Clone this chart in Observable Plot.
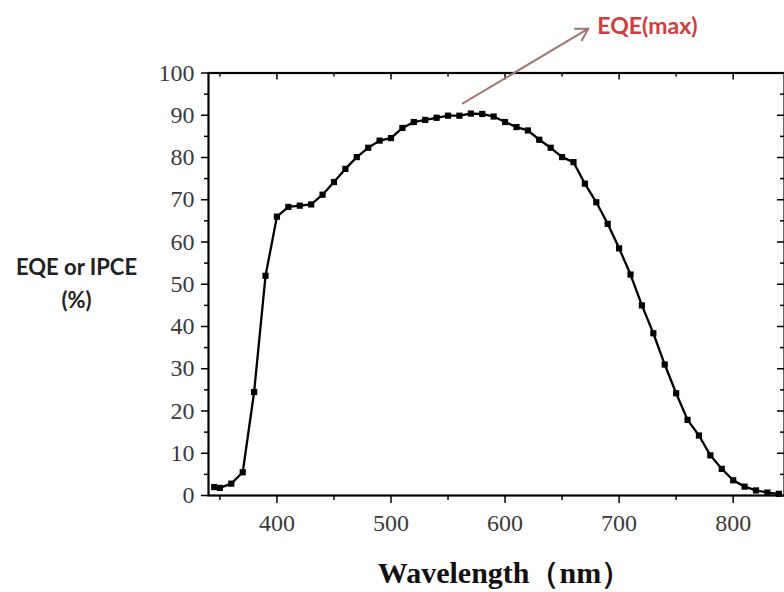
<!DOCTYPE html>
<html>
<head>
<meta charset="utf-8">
<script src="https://cdn.jsdelivr.net/npm/d3@7"></script>
<script src="https://cdn.jsdelivr.net/npm/@observablehq/plot@0.6"></script>
<style>
  html, body { margin: 0; padding: 0; background: #ffffff; overflow: hidden; }
  #chart svg { display: block; }
</style>
</head>
<body>
<div id="chart"></div>
<script>
// Data
const wavelength = [345, 350, 360, 370, 380, 390, 400, 410, 420, 430, 440, 450, 460, 470, 480, 490, 500,
  510, 520, 530, 540, 550, 560, 570, 580, 590, 600, 610, 620, 630, 640, 650, 660, 670, 680, 690, 700,
  710, 720, 730, 740, 750, 760, 770, 780, 790, 800, 810, 820, 830, 840];
const eqe = [2.0, 1.8, 2.8, 5.5, 24.5, 52.0, 66.0, 68.3, 68.6, 68.9, 71.2, 74.2, 77.3, 80.1, 82.3, 84.0, 84.6,
  87.0, 88.4, 88.9, 89.4, 89.9, 89.9, 90.4, 90.3, 89.7, 88.4, 87.2, 86.4, 84.2, 82.3, 80.1, 78.9, 73.8, 69.4, 64.3, 58.5,
  52.3, 45.0, 38.4, 31.0, 24.2, 17.9, 14.2, 9.5, 6.3, 3.6, 2.1, 1.2, 0.7, 0.4];

const xMajorTicks = [400, 500, 600, 700, 800];
const xMinorTicks = [350, 450, 550, 650, 750];
const yMajorTicks = [0, 10, 20, 30, 40, 50, 60, 70, 80, 90, 100];
const yMinorTicks = [5, 15, 25, 35, 45, 55, 65, 75, 85, 95];

const xLabel = "Wavelength（nm）";
const yLabel = "EQE or IPCE\n(%)";

// annotation arrow: from (nm, %) to (nm, %)
const annLabel = ["EQE(max)"];
const annFrom = [563, 92.8];
const annTo = [673, 110.5];

const data = wavelength.map((w, i) => ({wavelength: w, eqe: eqe[i]}));
const ann = [{label: annLabel[0], x1: annFrom[0], y1: annFrom[1], x2: annTo[0], y2: annTo[1]}];

const W = 784, H = 592;
const mTop = 72.5, mBottom = 97, mLeft = 208, mRight = 0;
const frameW = W - mLeft - mRight, frameH = H - mTop - mBottom;

const serif = "'Liberation Serif', 'DejaVu Serif', serif";
const sans = "Lato, 'Open Sans', sans-serif";

const chart = Plot.plot({
  width: W,
  height: H,
  marginTop: mTop,
  marginBottom: mBottom,
  marginLeft: mLeft,
  marginRight: mRight,
  style: {background: "#ffffff", fontFamily: serif, color: "#000"},
  x: {domain: [340, 845]},
  y: {domain: [0, 100]},
  marks: [
    // bottom axis (outward ticks)
    Plot.axisX(xMajorTicks, {anchor: "bottom", tickSize: 8, tickPadding: 10, fontSize: 24, fontFamily: serif, fill: "#3a3a3a", strokeWidth: 1.5, label: null}),
    Plot.axisX(xMinorTicks, {anchor: "bottom", tickSize: 5, tickFormat: () => "", strokeWidth: 1.5, label: null}),
    // top inward ticks
    Plot.tickX(xMajorTicks, {x: d => d, insetBottom: frameH - 7, stroke: "black", strokeWidth: 1.5}),
    Plot.tickX(xMinorTicks, {x: d => d, insetBottom: frameH - 4, stroke: "black", strokeWidth: 1.5}),
    // left axis (outward ticks)
    Plot.axisY(yMajorTicks, {anchor: "left", tickSize: 7, tickPadding: 7, fontSize: 24, fontFamily: serif, fill: "#3a3a3a", strokeWidth: 1.5, label: null}),
    Plot.axisY(yMinorTicks, {anchor: "left", tickSize: 4, tickFormat: () => "", strokeWidth: 1.5, label: null}),
    // right inward ticks
    Plot.tickY(yMajorTicks, {y: d => d, insetLeft: frameW - 7, stroke: "black", strokeWidth: 1.5}),
    Plot.tickY(yMinorTicks, {y: d => d, insetLeft: frameW - 4, stroke: "black", strokeWidth: 1.5}),
    Plot.frame({stroke: "black", strokeWidth: 2.2}),
    // data
    Plot.line(data, {x: "wavelength", y: "eqe", stroke: "black", strokeWidth: 2.3}),
    Plot.dot(data, {x: "wavelength", y: "eqe", symbol: "square", r: 3.5, fill: "black", stroke: "none"}),
    // annotation
    Plot.arrow(ann, {x1: "x1", y1: "y1", x2: "x2", y2: "y2", stroke: "#a47575", strokeWidth: 2, headLength: 10}),
    Plot.text(ann, {x: "x2", y: "y2", text: "label", textAnchor: "start", dx: 9, dy: -2, fill: "#d23c3c", fontSize: 23, fontWeight: "bold", fontFamily: sans}),
    // axis titles
    Plot.text([yLabel], {frameAnchor: "left", dx: -132, dy: -3, text: d => d, textAnchor: "middle", lineAnchor: "middle", lineHeight: 1.5, fontSize: 22, fontWeight: "bold", fontFamily: sans, fill: "#222"}),
    Plot.text([xLabel], {frameAnchor: "bottom", dx: 8, dy: 87, text: d => d, textAnchor: "middle", lineAnchor: "bottom", fontSize: 30, fontWeight: "bold", fontFamily: serif, fill: "#111"})
  ]
});
document.getElementById("chart").appendChild(chart);
</script>
</body>
</html>
